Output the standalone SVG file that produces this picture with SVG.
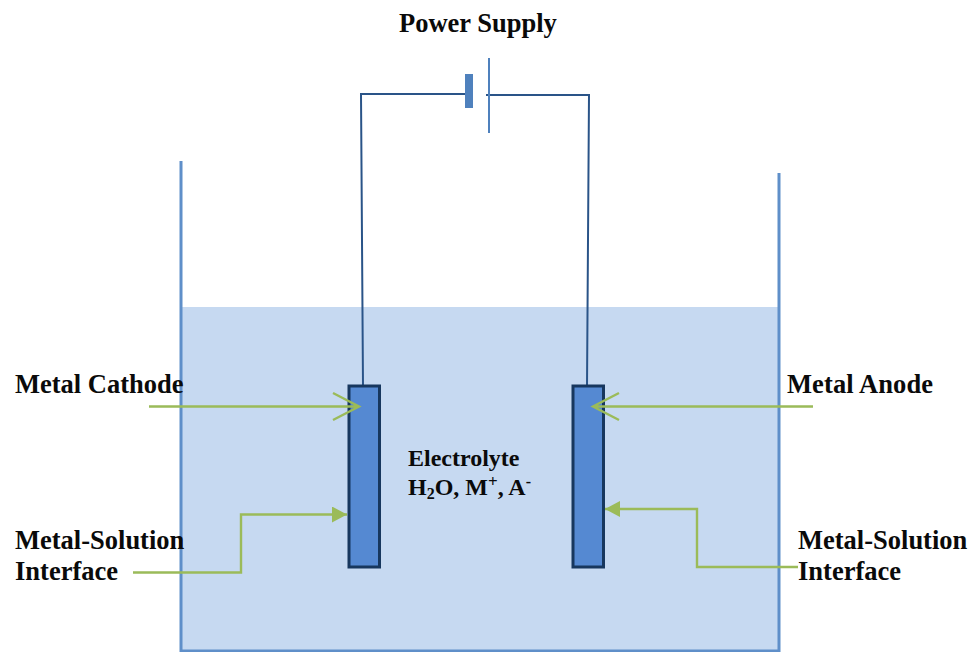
<svg xmlns="http://www.w3.org/2000/svg" width="977" height="652" viewBox="0 0 977 652">
<style>
text{font-family:"Liberation Serif","Times New Roman",serif;font-weight:bold;fill:#0a0a0a;font-size:26.500px}
.e{font-size:24px}
.wire{fill:none;stroke:#2a5488;stroke-width:2}
.g{fill:none;stroke:#9bbb59;stroke-width:2.400}
.el{fill:#5589d2;stroke:#17375e;stroke-width:3}
</style>
<defs>
<marker id="tri" markerUnits="userSpaceOnUse" markerWidth="16" markerHeight="16" refX="15" refY="8" orient="auto"><path d="M0 0L15 8L0 16Z" fill="#9bbb59"/></marker>
</defs>
<rect width="977" height="652" fill="#fff"/>
<g id="tank">
<rect x="181" y="307" width="598" height="344" fill="#c6d9f1"/>
<path d="M181 161V651H779V173" fill="none" stroke="#5f8fc9" stroke-width="3"/>
</g>
<g id="connectors">
<path class="wire" d="M465 94H361L363 386"/>
<path class="wire" d="M486 95H589L587 386"/>
</g>
<g id="battery">
<rect x="465" y="74" width="8" height="34" fill="#4f81bd"/>
<path d="M489 58V133" stroke="#4f81bd" stroke-width="2" fill="none"/>
</g>
<g id="cathode"><rect class="el" x="349" y="386" width="30.500" height="181"/></g>
<g id="anode"><rect class="el" x="573" y="386" width="30.500" height="181"/></g>
<g id="arrows">
<path class="g" d="M149 406.500H358M333 393L359 406.500L333 420"/>
<path class="g" d="M813 406.500H593M619 393L593 406.500L619 420"/>
<path class="g" d="M133 572.500H241V514.500H347" marker-end="url(#tri)"/>
<path class="g" d="M798 567H697V509H605" marker-end="url(#tri)"/>
</g>
<g id="labels">
<text x="399" y="32">Power Supply</text>
<text x="15" y="393">Metal Cathode</text>
<text x="787" y="393" textLength="146">Metal Anode</text>
<text x="15" y="549">Metal-Solution</text>
<text x="15" y="580">Interface</text>
<text x="798" y="549">Metal-Solution</text>
<text x="798" y="580">Interface</text>
<text class="e" x="408" y="466">Electrolyte</text>
<text class="e" x="408" y="495">H<tspan font-size="16" dy="4">2</tspan><tspan dy="-4">O, M</tspan><tspan font-size="17" dy="-8">+</tspan><tspan dy="8">, A</tspan><tspan font-size="16" dy="-8">-</tspan></text>
</g>
</svg>
